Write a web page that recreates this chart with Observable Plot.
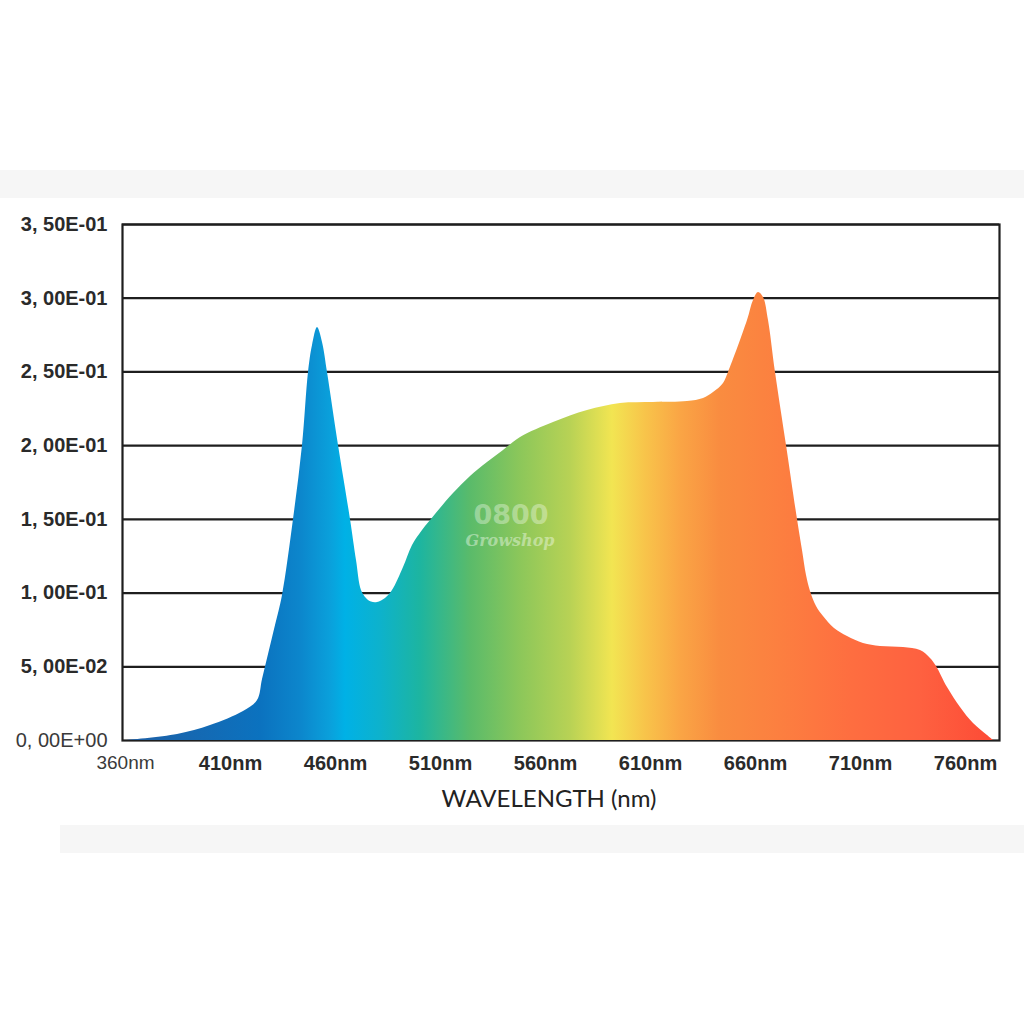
<!DOCTYPE html>
<html><head><meta charset="utf-8">
<script src="https://cdn.jsdelivr.net/npm/d3@7"></script>
<script src="https://cdn.jsdelivr.net/npm/@observablehq/plot@0.6"></script>
<style>
html,body{margin:0;padding:0;background:#fff;}
#wrap{position:relative;width:1024px;height:1024px;overflow:hidden;background:#fff;}
.band{position:absolute;background:#f6f6f6;}
#chart{position:absolute;left:0;top:0;}
</style></head><body>
<div id="wrap">
<div class="band" style="left:0;top:170px;width:1024px;height:28px"></div>
<div class="band" style="left:60px;top:825px;width:964px;height:28px"></div>
<div id="chart"></div>
</div>
<script>
// Spectrum readings (wavelength nm, relative irradiance)
const wavelengths = [360.0, 384.76, 400.48, 416.19, 422.86, 425.24, 428.10, 431.43, 434.76, 440.00, 444.29, 447.14, 449.05, 451.43, 453.81, 456.19, 461.43, 467.14, 470.00, 472.38, 474.76, 477.14, 480.00, 483.81, 487.14, 492.38, 496.67, 501.43, 507.62, 516.19, 524.29, 532.38, 540.00, 548.10, 563.81, 580.00, 595.71, 611.43, 627.62, 635.24, 640.00, 644.76, 647.14, 656.19, 659.05, 661.43, 663.81, 666.19, 669.52, 674.76, 680.00, 682.38, 684.29, 686.19, 689.05, 692.38, 697.62, 703.81, 711.43, 719.52, 730.48, 738.57, 743.33, 746.19, 751.43, 757.62, 763.81, 770.48, 773.33];
const irradiance = [0, 0.0041, 0.0102, 0.0197, 0.0271, 0.0414, 0.0583, 0.0780, 0.0984, 0.1499, 0.2001, 0.2496, 0.2679, 0.2801, 0.2700, 0.2496, 0.2001, 0.1499, 0.1221, 0.1017, 0.0963, 0.0939, 0.0936, 0.0963, 0.1017, 0.1173, 0.1323, 0.1424, 0.1533, 0.1675, 0.1791, 0.1886, 0.1967, 0.2055, 0.2157, 0.2238, 0.2286, 0.2293, 0.2299, 0.2320, 0.2360, 0.2422, 0.2496, 0.2849, 0.2985, 0.3039, 0.3005, 0.2849, 0.2496, 0.2001, 0.1499, 0.1289, 0.1119, 0.1011, 0.0909, 0.0841, 0.0760, 0.0705, 0.0658, 0.0638, 0.0631, 0.0610, 0.0556, 0.0502, 0.0359, 0.0224, 0.0115, 0.0034, 0];

// Axis ticks and labels
const xTicksRegular = [360];
const xLabelsRegular = ["360nm"];
const xTicksBold = [410, 460, 510, 560, 610, 660, 710, 760];
const xLabelsBold = ["410nm", "460nm", "510nm", "560nm", "610nm", "660nm", "710nm", "760nm"];
const yTicksRegular = [0];
const yLabelsRegular = ["0, 00E+00"];
const yTicksBold = [0.05, 0.10, 0.15, 0.20, 0.25, 0.30, 0.35];
const yLabelsBold = ["5, 00E-02", "1, 00E-01", "1, 50E-01", "2, 00E-01", "2, 50E-01", "3, 00E-01", "3, 50E-01"];
const xTitle = "WAVELENGTH (nm)";
const watermarkTop = "0800";
const watermarkBottom = "Growshop";

// Spectrum gradient stops (by wavelength)
const stopNm = [360, 424.3, 443.3, 457.6, 464.8, 481.4, 500.5, 524.3, 548.1, 571.9, 591.9, 607.6, 624.3, 643.3, 671.9, 705.2, 738.6, 773];
const stopColor = ["#1f5fa5", "#0b72bf", "#0c86cc", "#0aa0db", "#00b1e6", "#0db2cc", "#1db5a0", "#5abb6a", "#8cc75a", "#b8d255", "#f2e552", "#f8c44a", "#faa545", "#f98c40", "#fc7f40", "#fe6e40", "#fe6140", "#fd4b36"];

const spectrum = wavelengths.map((nm, i) => ({nm, v: irradiance[i]}));

const gradientDefs = (index, scales) => {
  const g = d3.create("svg:g");
  const lg = g.append("defs").append("linearGradient")
    .attr("id", "spectrum")
    .attr("gradientUnits", "userSpaceOnUse")
    .attr("x1", scales.x(stopNm[0])).attr("x2", scales.x(stopNm[stopNm.length - 1]))
    .attr("y1", 0).attr("y2", 0);
  const lo = stopNm[0], hi = stopNm[stopNm.length - 1];
  stopNm.forEach((nm, i) => lg.append("stop").attr("offset", (nm - lo) / (hi - lo)).attr("stop-color", stopColor[i]));
  return g.node();
};

const axisFont = "Liberation Sans, Arial, sans-serif";

const chart = Plot.plot({
  width: 1024,
  height: 1024,
  marginLeft: 122,
  marginRight: 25,
  marginTop: 224,
  marginBottom: 284,
  style: {background: "transparent", overflow: "visible"},
  x: {domain: [358.571, 776.19]},
  y: {domain: [0, 0.35]},
  marks: [
    gradientDefs,
    Plot.gridY(yTicksBold, {stroke: "#1e1e1e", strokeOpacity: 1, strokeWidth: 2.2}),
    Plot.frame({stroke: "#1e1e1e", strokeWidth: 2.2}),
    Plot.areaY(spectrum, {x: "nm", y: "v", fill: "url(#spectrum)", curve: "catmull-rom"}),
    Plot.text([watermarkTop], {frameAnchor: "middle", dx: -50, dy: 33, fontSize: 27, fontWeight: "bold", fontFamily: "DejaVu Sans", fill: "#f4fbef", fillOpacity: 0.4}),
    Plot.text([watermarkBottom], {frameAnchor: "middle", dx: -51, dy: 58, fontSize: 16, fontWeight: "bold", fontStyle: "italic", fontFamily: "DejaVu Serif", fill: "#f4fbef", fillOpacity: 0.45}),
    Plot.axisY(yTicksBold, {tickSize: 0, tickPadding: 15, fontSize: 20, fontWeight: "bold", fontFamily: axisFont, fill: "#2a2a2a", label: null, tickFormat: (d) => yLabelsBold[yTicksBold.indexOf(d)]}),
    Plot.axisY(yTicksRegular, {tickSize: 0, tickPadding: 15, fontSize: 20, fontFamily: axisFont, fill: "#3a3a3a", label: null, tickFormat: (d) => yLabelsRegular[yTicksRegular.indexOf(d)]}),
    Plot.axisX(xTicksBold, {tickSize: 0, tickPadding: 15, fontSize: 20, fontWeight: "bold", fontFamily: axisFont, fill: "#2a2a2a", label: null, tickFormat: (d) => xLabelsBold[xTicksBold.indexOf(d)]}),
    Plot.axisX(xTicksRegular, {tickSize: 0, tickPadding: 15, fontSize: 19, fontFamily: axisFont, fill: "#3a3a3a", label: null, tickFormat: (d) => xLabelsRegular[xTicksRegular.indexOf(d)]}),
    Plot.text([xTitle], {frameAnchor: "bottom", dx: -12, dy: 66, fontSize: 24, fontFamily: "Lato", fill: "#222"})
  ]
});
document.getElementById("chart").appendChild(chart);
</script>
</body></html>
